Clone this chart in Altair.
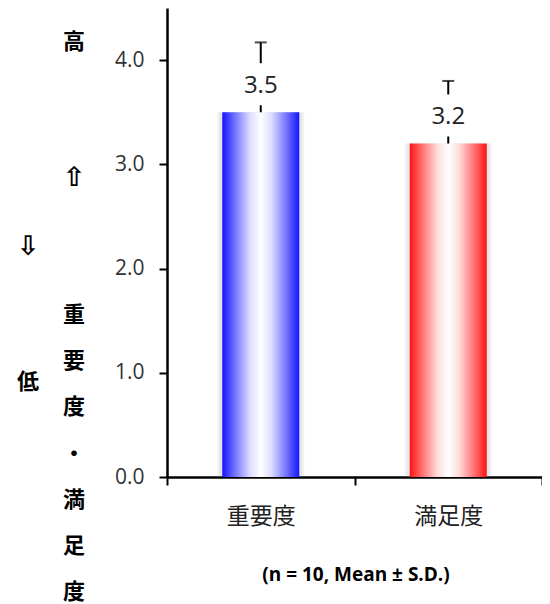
import altair as alt
import pandas as pd

categories = ["重要度", "満足度"]
means = [3.5, 3.2]
sds = [0.67, 0.6]
y_ticks = [0.0, 1.0, 2.0, 3.0, 4.0]

df = pd.DataFrame({"item": categories, "mean": means, "sd": sds})

W, H = 375, 469
FONT = "Open Sans"
JP = "Noto Sans CJK JP"

base = alt.Chart(df).transform_calculate(upper="datum.mean + datum.sd")

x_enc = alt.X(
    "item:N",
    sort=categories,
    scale=alt.Scale(paddingInner=0, paddingOuter=0),
    axis=alt.Axis(
        title=None,
        labelAngle=0,
        labelFont=JP,
        labelFontSize=23,
        labelColor="#222",
        labelPadding=20,
        tickBand="extent",
        tickSize=8,
        tickWidth=2,
        tickColor="black",
        domainColor="black",
        domainWidth=2.5,
        grid=False,
    ),
)
y_enc = alt.Y(
    "mean:Q",
    scale=alt.Scale(domain=[0, 4.5], nice=False),
    axis=alt.Axis(
        title=None,
        values=y_ticks,
        format=".1f",
        labelFont=FONT,
        labelFontSize=21,
        labelColor="#333",
        labelPadding=15,
        tickSize=8,
        tickWidth=2,
        tickColor="black",
        domainColor="black",
        domainWidth=2.5,
        grid=False,
    ),
)

shadow1 = base.mark_bar(size=87, color="#888", opacity=0.1).encode(x=x_enc, y=y_enc)
shadow2 = base.mark_bar(size=83, color="#888", opacity=0.12).encode(x=x_enc, y=y_enc)


def grad(c, mid1, mid2):
    return alt.Gradient(
        gradient="linear",
        x1=0, x2=1, y1=0, y2=0,
        stops=[
            alt.GradientStop(color=c, offset=0),
            alt.GradientStop(color=mid1, offset=0.16),
            alt.GradientStop(color=mid2, offset=0.36),
            alt.GradientStop(color="white", offset=0.5),
            alt.GradientStop(color=mid2, offset=0.64),
            alt.GradientStop(color=mid1, offset=0.84),
            alt.GradientStop(color=c, offset=1),
        ],
    )


bar_blue = base.transform_filter(alt.datum.item == categories[0]).mark_bar(
    size=77, color=grad("#1414ff", "#7070ff", "#dcdcff")
).encode(x=x_enc, y=y_enc)
bar_red = base.transform_filter(alt.datum.item == categories[1]).mark_bar(
    size=77, color=grad("#ff1414", "#ff7070", "#ffdcdc")
).encode(x=x_enc, y=y_enc)

err_low = base.mark_rule(color="black", strokeWidth=2, y2Offset=-7).encode(
    x=x_enc, y="mean:Q", y2="mean:Q"
)
err_high = base.mark_rule(color="black", strokeWidth=2, yOffset=-49).encode(
    x=x_enc, y="mean:Q", y2="upper:Q"
)
err_cap = base.mark_tick(color="black", orient="horizontal", size=12, thickness=2).encode(
    x=x_enc, y="upper:Q"
)
labels = base.mark_text(
    dy=-26, fontSize=24, font=FONT, color="#222", baseline="middle"
).encode(x=x_enc, y="mean:Q", text=alt.Text("mean:Q", format=".1f"))

one = alt.Data(values=[{"k": 0}])


def note(txt, x, y, size, font=JP, weight="bold", lh=None, color="black"):
    kw = dict(text=txt, fontSize=size, font=font, fontWeight=weight, color=color,
              align="center", baseline="middle")
    if lh is not None:
        kw["lineHeight"] = lh
    return alt.Chart(one).mark_text(**kw).encode(x=alt.value(x), y=alt.value(y))


notes = [
    note("高", -93, 34, 22),
    note("⇧", -93, 170, 27, font="DejaVu Sans"),
    note("⇩", -139, 239, 27, font="DejaVu Sans"),
    note("低", -139, 374, 22),
    note(list("重要度・満足度"), -93, 307, 22, lh=46.2),
    note("(n = 10, Mean ± S.D.)", 189, 567, 19, font=FONT),
]

chart = alt.layer(
    shadow1, shadow2, bar_blue, bar_red, err_low, err_high, err_cap, labels, *notes
).properties(
    width=W,
    height=H,
    autosize=alt.AutoSizeParams(type="none"),
    padding={"left": 159, "top": 0, "right": 0, "bottom": 127},
).configure_view(stroke=None)

chart.save("out.html", embed_options={"renderer": "svg", "actions": False})
